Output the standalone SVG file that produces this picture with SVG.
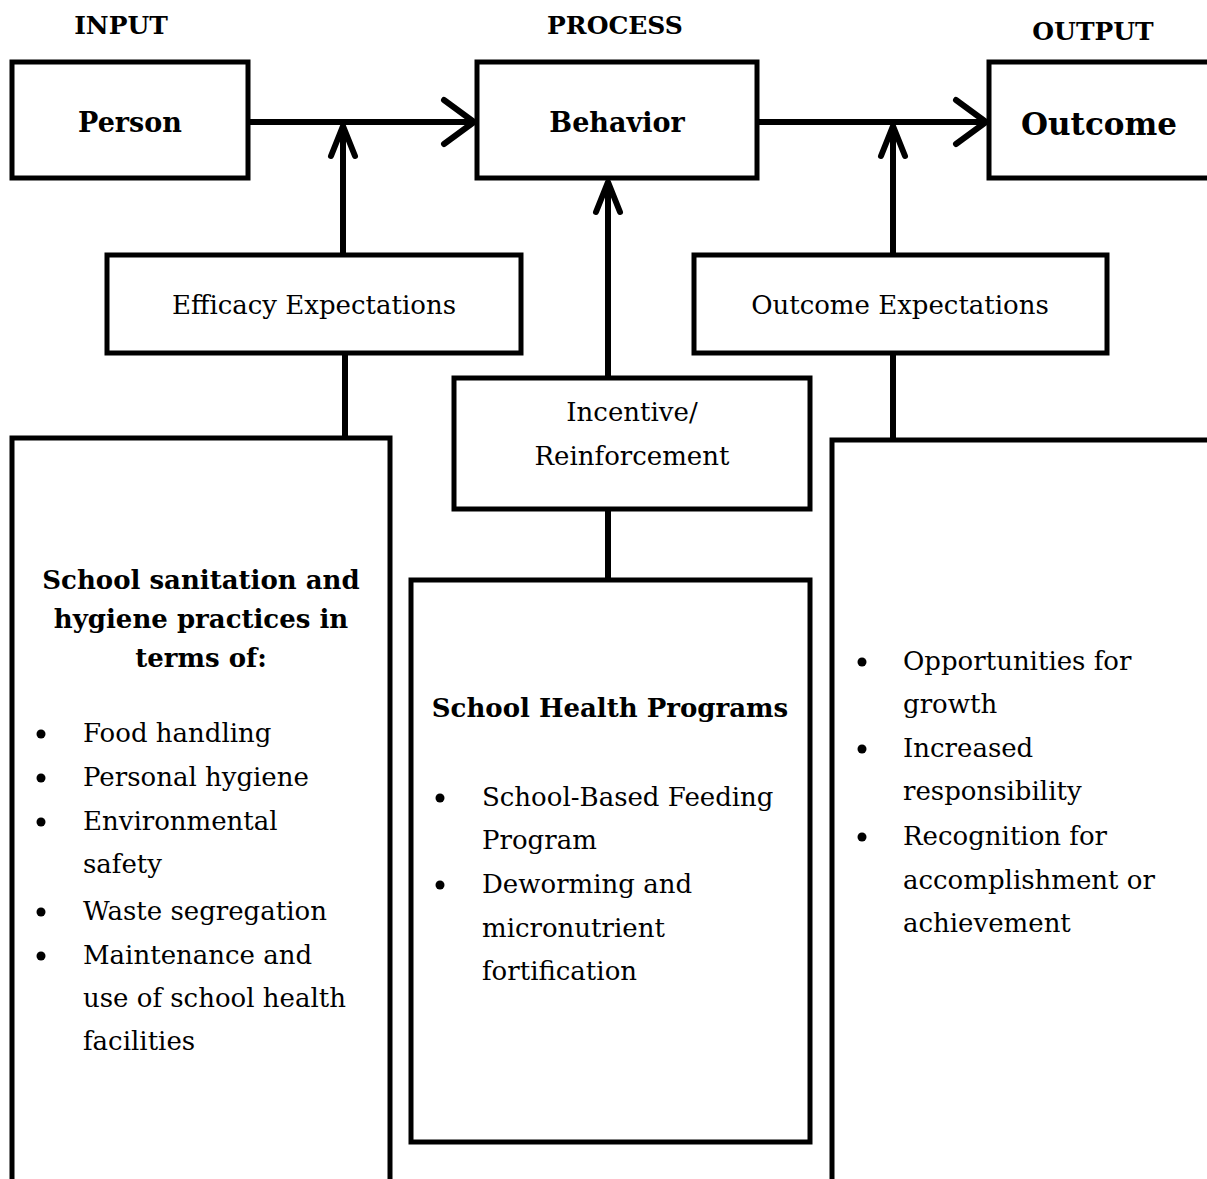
<svg xmlns="http://www.w3.org/2000/svg" width="1207" height="1179" viewBox="0 0 1207 1179">
<style>
.box{fill:#fff;stroke:#000;stroke-width:5}
.con{fill:none;stroke:#000;stroke-width:6}
.head{fill:none;stroke:#000;stroke-width:6;stroke-linecap:round;stroke-linejoin:round}
text{font-family:"DejaVu Serif","Liberation Serif",serif;fill:#000}
.hd{font-size:25px;font-weight:bold;text-anchor:middle}
.lbl{font-size:26px;text-anchor:middle}
.b{font-size:26px;font-weight:bold;text-anchor:middle}
.t{font-size:26px}
</style>
<rect width="1207" height="1179" fill="#fff"/>
<g id="headers">
<text class="hd" x="121" y="34">INPUT</text>
<text class="hd" x="615" y="34">PROCESS</text>
<text class="hd" x="1093" y="40">OUTPUT</text>
</g>
<g id="connectors">
<line class="con" x1="248" y1="122" x2="474" y2="122"/>
<polyline class="head" points="444,100 474,122 444,144"/>
<line class="con" x1="343" y1="255" x2="343" y2="126"/>
<polyline class="head" points="331,156 343,126 355,156"/>
<line class="con" x1="757" y1="122" x2="986" y2="122"/>
<polyline class="head" points="956,100 986,122 956,144"/>
<line class="con" x1="893" y1="255" x2="893" y2="126"/>
<polyline class="head" points="881,156 893,126 905,156"/>
<line class="con" x1="608" y1="378" x2="608" y2="182"/>
<polyline class="head" points="596,212 608,182 620,212"/>
<line class="con" x1="345" y1="353" x2="345" y2="438"/>
<line class="con" x1="608" y1="509" x2="608" y2="580"/>
<line class="con" x1="893" y1="353" x2="893" y2="440"/>
</g>
<g id="person">
<rect class="box" x="12" y="62" width="236" height="116"/>
<text class="b" x="130" y="132" style="font-size:27px">Person</text>
</g>
<g id="behavior">
<rect class="box" x="477" y="62" width="280" height="116"/>
<text class="b" x="617" y="132" style="font-size:27px">Behavior</text>
</g>
<g id="outcome">
<rect class="box" x="989" y="62" width="240" height="116"/>
<text class="b" x="1099" y="135" style="font-size:31px">Outcome</text>
</g>
<g id="efficacy">
<rect class="box" x="107" y="255" width="414" height="98"/>
<text class="lbl" x="314" y="314">Efficacy Expectations</text>
</g>
<g id="outcome-expectations">
<rect class="box" x="694" y="255" width="413" height="98"/>
<text class="lbl" x="900" y="314">Outcome Expectations</text>
</g>
<g id="incentive">
<rect class="box" x="454" y="378" width="356" height="131"/>
<text class="lbl" x="632" y="421">Incentive/</text>
<text class="lbl" x="632" y="465">Reinforcement</text>
</g>
<g id="sanitation">
<rect class="box" x="12" y="438" width="378" height="780"/>
<text class="b" x="201" y="589">School sanitation and</text>
<text class="b" x="201" y="628">hygiene practices in</text>
<text class="b" x="201" y="667">terms of:</text>
<circle cx="41" cy="734" r="4.5"/><text class="t" x="83" y="742">Food handling</text>
<circle cx="41" cy="778" r="4.5"/><text class="t" x="83" y="786">Personal hygiene</text>
<circle cx="41" cy="822" r="4.5"/><text class="t" x="83" y="830">Environmental</text>
<text class="t" x="83" y="873">safety</text>
<circle cx="41" cy="912" r="4.5"/><text class="t" x="83" y="920">Waste segregation</text>
<circle cx="41" cy="956" r="4.5"/><text class="t" x="83" y="964">Maintenance and</text>
<text class="t" x="83" y="1007">use of school health</text>
<text class="t" x="83" y="1050">facilities</text>
</g>
<g id="health-programs">
<rect class="box" x="411" y="580" width="399" height="562"/>
<text class="b" x="610" y="717">School Health Programs</text>
<circle cx="440" cy="798" r="4.5"/><text class="t" x="482" y="806">School-Based Feeding</text>
<text class="t" x="482" y="849">Program</text>
<circle cx="440" cy="885" r="4.5"/><text class="t" x="482" y="893">Deworming and</text>
<text class="t" x="482" y="937">micronutrient</text>
<text class="t" x="482" y="980">fortification</text>
</g>
<g id="benefits">
<rect class="box" x="832" y="440" width="400" height="780"/>
<circle cx="862" cy="662" r="4.5"/><text class="t" x="903" y="670">Opportunities for</text>
<text class="t" x="903" y="713">growth</text>
<circle cx="862" cy="749" r="4.5"/><text class="t" x="903" y="757">Increased</text>
<text class="t" x="903" y="800">responsibility</text>
<circle cx="862" cy="837" r="4.5"/><text class="t" x="903" y="845">Recognition for</text>
<text class="t" x="903" y="889">accomplishment or</text>
<text class="t" x="903" y="932">achievement</text>
</g>
</svg>
